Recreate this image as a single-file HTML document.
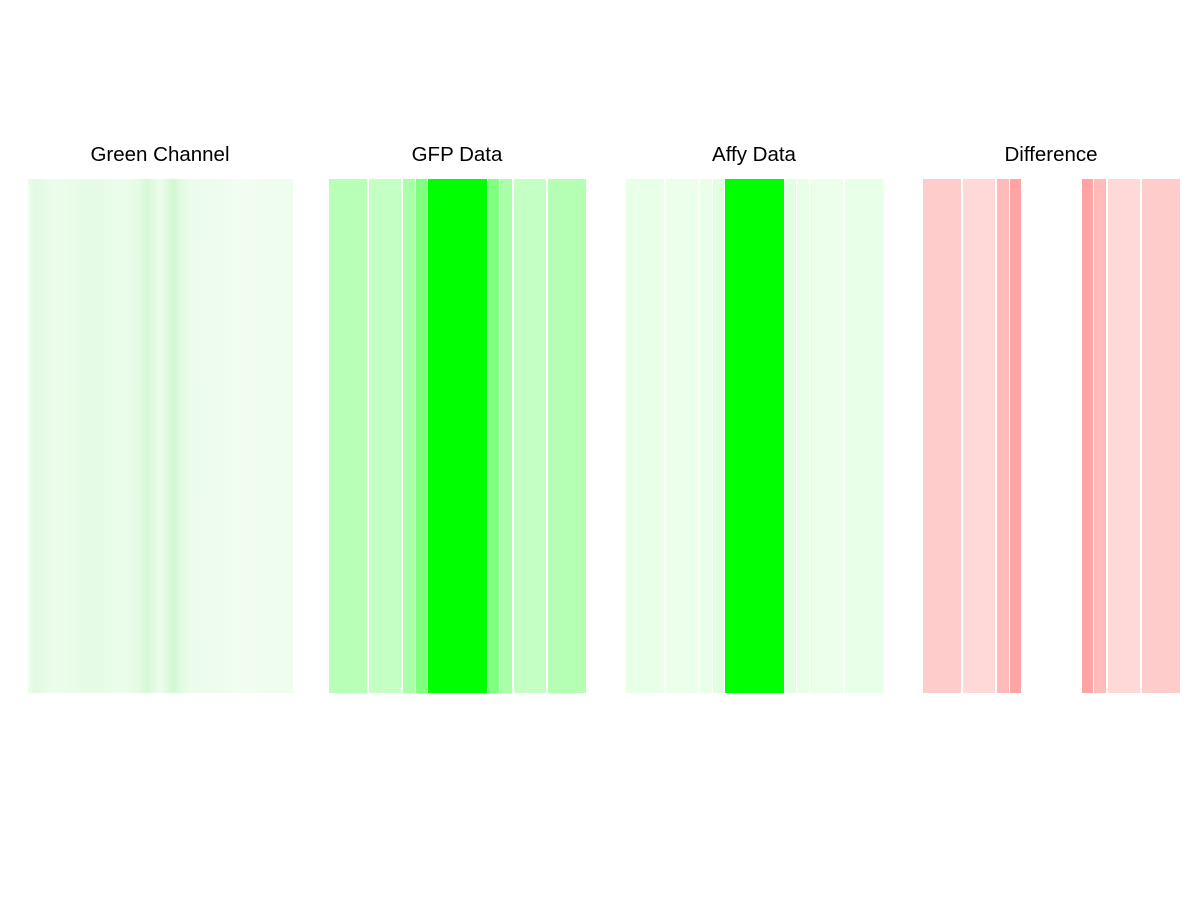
<!DOCTYPE html>
<html><head><style>
body{margin:0;width:1200px;height:900px;background:#fff;position:relative;overflow:hidden;font-family:"Liberation Sans",sans-serif}
.t{position:absolute;top:143px;width:300px;text-align:center;font-size:20.5px;color:#000}
.b{position:absolute;top:179px;height:514px}
</style></head><body>
<div class="t" style="left:10px">Green Channel</div>
<div class="t" style="left:307px">GFP Data</div>
<div class="t" style="left:604px">Affy Data</div>
<div class="t" style="left:901px">Difference</div>

<div class="b" style="left:28px;width:265px;background:linear-gradient(90deg,#ecfcec 0%,#e2fae2 3%,#ecfcec 10%,#e4fbe4 25%,#ecfcec 35%,#e4fbe4 42%,#d6f8d6 45%,#e0fae0 47%,#ecfcec 50%,#d0f7d0 55%,#e0fae0 57%,#ecfcec 62%,#f0fdf0 80%,#eefdee 100%)"></div>

<div class="b" style="left:329px;width:38px;background:#b8ffb8"></div>
<div class="b" style="left:369px;width:32px;background:#c4ffc4"></div>
<div class="b" style="left:403px;width:12px;background:#a8ffa8"></div>
<div class="b" style="left:416px;width:11px;background:#80ff80"></div>
<div class="b" style="left:428px;width:59px;background:#00ff00"></div>
<div class="b" style="left:488px;width:11px;background:#80ff80"></div>
<div class="b" style="left:500px;width:12px;background:#a8ffa8"></div>
<div class="b" style="left:514px;width:32px;background:#c4ffc4"></div>
<div class="b" style="left:548px;width:38px;background:#b4ffb4"></div>

<div class="b" style="left:626px;width:38px;background:#e8ffe8"></div>
<div class="b" style="left:666px;width:32px;background:#ebffeb"></div>
<div class="b" style="left:700px;width:12px;background:#e8ffe8"></div>
<div class="b" style="left:713px;width:11px;background:#e0ffe0"></div>
<div class="b" style="left:725px;width:59px;background:#00ff00"></div>
<div class="b" style="left:785px;width:11px;background:#e0ffe0"></div>
<div class="b" style="left:797px;width:12px;background:#e8ffe8"></div>
<div class="b" style="left:810px;width:33px;background:#ebffeb"></div>
<div class="b" style="left:845px;width:38px;background:#e8ffe8"></div>

<div class="b" style="left:923px;width:38px;background:#ffcccc"></div>
<div class="b" style="left:963px;width:32px;background:#ffd8d8"></div>
<div class="b" style="left:997px;width:12px;background:#ffbaba"></div>
<div class="b" style="left:1010px;width:11px;background:#ffa4a4"></div>
<div class="b" style="left:1082px;width:11px;background:#ffa4a4"></div>
<div class="b" style="left:1094px;width:12px;background:#ffbaba"></div>
<div class="b" style="left:1108px;width:32px;background:#ffd8d8"></div>
<div class="b" style="left:1142px;width:38px;background:#ffcccc"></div>
</body></html>
